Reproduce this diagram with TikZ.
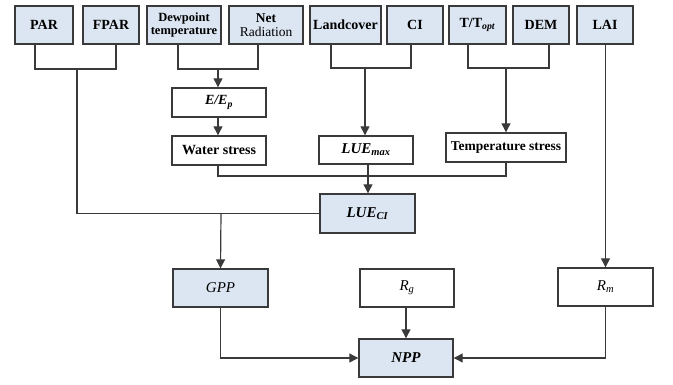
\documentclass[tikz,border=0pt]{standalone}
\usepackage{fontspec}
\setmainfont{Liberation Serif}
\usetikzlibrary{arrows.meta,calc}
\definecolor{boxfill}{HTML}{DCE6F2}
\definecolor{edge}{HTML}{3A3A3A}
\begin{document}
\begin{tikzpicture}[x=1pt,y=-1pt,
  box/.style={draw=edge,line width=1.4pt,inner sep=0pt,align=center,font=\fontsize{14}{15}\selectfont\bfseries},
  inbox/.style={box,fill=boxfill},
  regular/.style={font=\fontsize{15}{16}\selectfont},
  big/.style={font=\fontsize{15}{16}\selectfont\bfseries},
  conn/.style={draw=edge,line width=1.2pt},
  arr/.style={conn,-{Triangle[length=9pt,width=9pt]}}]
\useasboundingbox (0,0) rectangle (673,384);
% top row
\node[inbox,minimum width=58pt,minimum height=38pt] (PAR) at (44,25) {PAR};
\node[inbox,minimum width=56pt,minimum height=38pt] (FPAR) at (111,25) {FPAR};
\node[inbox,minimum width=74pt,minimum height=38pt,font=\fontsize{12.5}{13.5}\selectfont\bfseries] (DEW) at (184,25) {Dewpoint\\temperature};
\node[inbox,minimum width=74pt,minimum height=38pt,line width=1.9pt,font=\fontsize{13.5}{14.5}\selectfont\bfseries] (NET) at (266,25) {Net\\\mdseries Radiation};
\node[inbox,minimum width=71pt,minimum height=38pt] (LAND) at (345.5,25) {Landcover};
\node[inbox,minimum width=56pt,minimum height=38pt] (CI) at (415,25) {CI};
\node[inbox,minimum width=57pt,minimum height=38pt] (TOPT) at (477.5,25) {T/T\textsubscript{\textit{opt}}};
\node[inbox,minimum width=56pt,minimum height=38pt] (DEM) at (541,25) {DEM};
\node[inbox,minimum width=56pt,minimum height=38pt] (LAI) at (605,25) {LAI};
% middle
\node[box,minimum width=94pt,minimum height=29pt] (EEP) at (219,102.5) {\textit{E/E}\textsubscript{\textit{p}}};
\node[box,minimum width=94pt,minimum height=29pt] (WS) at (219,150.5) {Water stress};
\node[box,minimum width=94pt,minimum height=28pt,big] (LUEMAX) at (366,150) {\textit{LUE}\textsubscript{\textit{max}}};
\node[box,minimum width=120pt,minimum height=29pt,font=\fontsize{13.5}{14.5}\selectfont\bfseries] (TS) at (506,147.5) {Temperature stress};
\node[inbox,minimum width=95pt,minimum height=39pt,big] (LUECI) at (367.5,213.5) {\textit{LUE}\textsubscript{\textit{CI}}};
% bottom
\node[inbox,minimum width=95pt,minimum height=38pt,regular] (GPP) at (220.5,288) {\textit{GPP}};
\node[box,minimum width=94pt,minimum height=38pt,regular] (RG) at (407,288) {\textit{R}\textsubscript{\textit{g}}};
\node[box,minimum width=95pt,minimum height=38pt,regular] (RM) at (605.5,287) {\textit{R}\textsubscript{\textit{m}}};
\node[inbox,minimum width=94pt,minimum height=38pt,big] (NPP) at (406,358) {\textit{NPP}};
% coordinates
\coordinate (j1) at (77,69);
\coordinate (j2) at (218,69);
\coordinate (j3) at (365,68);
\coordinate (j4) at (506,68);
\coordinate (j5) at (218,176);
\coordinate (j6) at (221,213);
% PAR/FPAR bracket
\draw[conn] ([xshift=-9pt]PAR.south) |- (j1) -| ([xshift=5pt]FPAR.south);
\draw[conn] (j1) |- (LUECI.west);
\draw[arr] (j6) -- (GPP.north);
% Dewpoint/Net bracket
\draw[conn] ([xshift=-6pt]DEW.south) |- (j2) -| ([xshift=-8pt]NET.south);
\draw[arr] (j2) -- (EEP.north -| j2);
\draw[arr] (EEP.south -| j2) -- (WS.north -| j2);
% Landcover/CI bracket
\draw[conn] ([xshift=-14.5pt]LAND.south) |- (j3) -| ([xshift=-4pt]CI.south);
\draw[arr] (j3) -- (LUEMAX.north -| j3);
% T/Topt/DEM bracket
\draw[conn] ([xshift=-9.5pt]TOPT.south) |- (j4) -| ([xshift=8pt]DEM.south);
\draw[arr] (j4) -- (TS.north -| j4);
% stresses
\draw[conn] (WS.south -| j5) |- (j5 -| TS.south) -- (TS.south);
\draw[arr] ([xshift=2pt]LUEMAX.south) -- ([xshift=2pt]LUEMAX.south |- LUECI.north);
% to NPP
\draw[arr] (GPP.south) |- (NPP.west);
\draw[arr] (RG.south -| NPP.north) -- (NPP.north);
\draw[arr] (LAI.south -| RM.north) -- (RM.north);
\draw[arr] (RM.south) |- (NPP.east);
\end{tikzpicture}
\end{document}
